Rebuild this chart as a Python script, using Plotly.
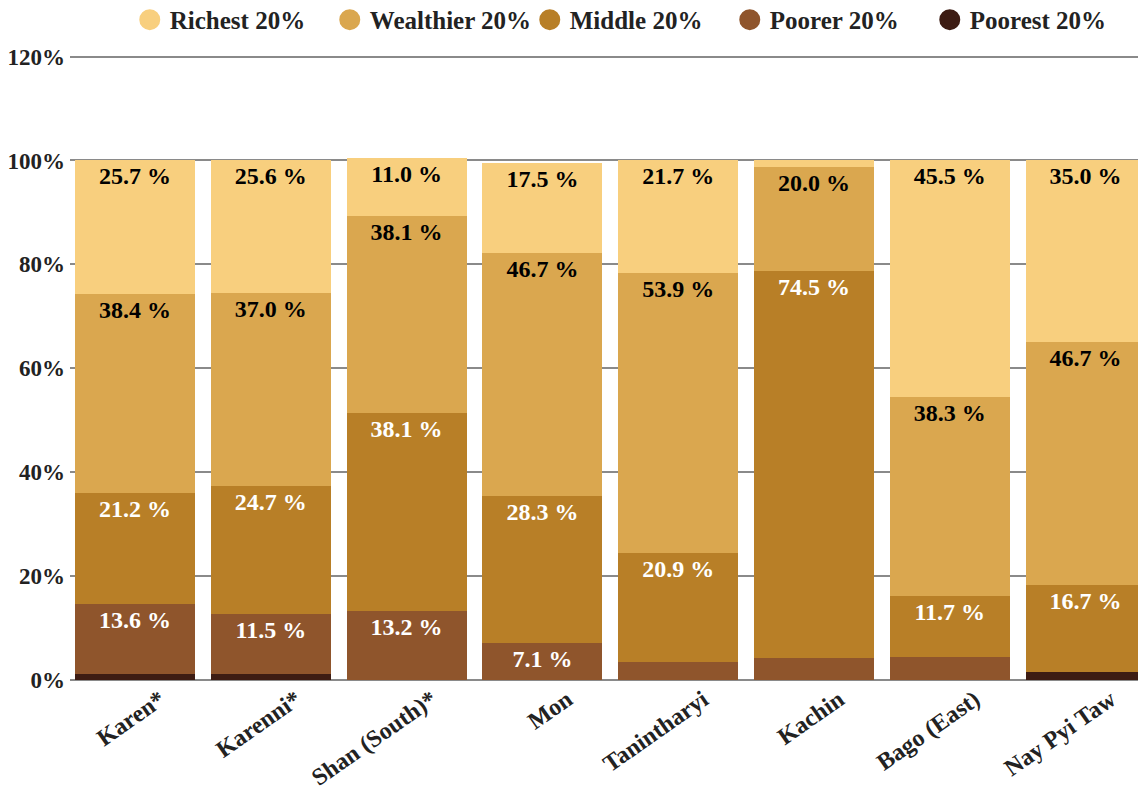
import plotly.graph_objects as go

# regions (x categories)
regions = ["Karen*", "Karenni*", "Shan (South)*", "Mon", "Tanintharyi",
           "Kachin", "Bago (East)", "Nay Pyi Taw"]

# share of households per wealth quintile, % (bottom -> top of each bar)
poorest = [1.1, 1.2, 0.0, 0.0, 0.0, 0.0, 0.0, 1.6]
poorer = [13.6, 11.5, 13.2, 7.1, 3.5, 4.2, 4.5, 0.0]
middle = [21.2, 24.7, 38.1, 28.3, 20.9, 74.5, 11.7, 16.7]
wealthier = [38.4, 37.0, 38.1, 46.7, 53.9, 20.0, 38.3, 46.7]
richest = [25.7, 25.6, 11.0, 17.5, 21.7, 1.3, 45.5, 35.0]

y_ticks = [0, 20, 40, 60, 80, 100, 120]

FONT = "Liberation Serif, Times New Roman, serif"

series = [
    ("Poorest 20%", poorest, "#3D1C13", "white"),
    ("Poorer 20%", poorer, "#8F552C", "white"),
    ("Middle 20%", middle, "#B87F27", "white"),
    ("Wealthier 20%", wealthier, "#DAA74F", "#000000"),
    ("Richest 20%", richest, "#F8CF7E", "#000000"),
]

fig = go.Figure()

for name, vals, color, txtcol in series:
    labels = [f"{v:.1f} %" if v >= 5 else "" for v in vals]
    fig.add_trace(go.Bar(
        x=regions, y=vals, name=name,
        marker=dict(color=color, line=dict(width=0)),
        text=labels, textposition="inside", insidetextanchor="end",
        textangle=0,
        textfont=dict(family=FONT, size=24, color=txtcol, weight="bold"),
        showlegend=False, hoverinfo="x+y+name",
    ))

# legend entries drawn as circles, richest first
for name, vals, color, txtcol in reversed(series):
    fig.add_trace(go.Scatter(
        x=[None], y=[None], mode="markers", name=name,
        marker=dict(symbol="circle", size=16, color=color,
                    line=dict(color=color, width=5)),
        showlegend=True,
    ))

# page body has an 8px margin, so the figure is made 8px smaller
fig.update_layout(
    width=1138, height=784,
    barmode="stack", bargap=0.116,
    paper_bgcolor="white", plot_bgcolor="white",
    margin=dict(l=62, r=0, t=47, b=112, autoexpand=False),
    font=dict(family=FONT, color="#222222", weight="bold"),
    legend=dict(orientation="h", xref="container", yref="paper",
                x=0.107, xanchor="left", y=1.093, yanchor="top",
                traceorder="normal",
                entrywidth=155, entrywidthmode="pixels",
                font=dict(family=FONT, size=25, color="#222222", weight="bold"),
                itemclick=False),
)

fig.update_xaxes(
    range=[-0.479, 7.445], automargin=False,
    tickangle=-35, showgrid=False, showline=False, ticks="",
    ticklabelshift=25,
    tickfont=dict(family=FONT, size=24, color="#222222", weight="bold"),
)

fig.update_yaxes(
    range=[0, 120.3], tickvals=y_ticks, automargin=False,
    ticktext=[f"{t}%" for t in y_ticks],
    showgrid=True, gridcolor="#8a8a8a", gridwidth=1.5,
    zeroline=True, zerolinecolor="#8a8a8a", zerolinewidth=1.5,
    showline=False, ticks="", ticklabelstandoff=4,
    tickfont=dict(family=FONT, size=23, color="#222222", weight="bold"),
)

fig.write_html("out.html")
